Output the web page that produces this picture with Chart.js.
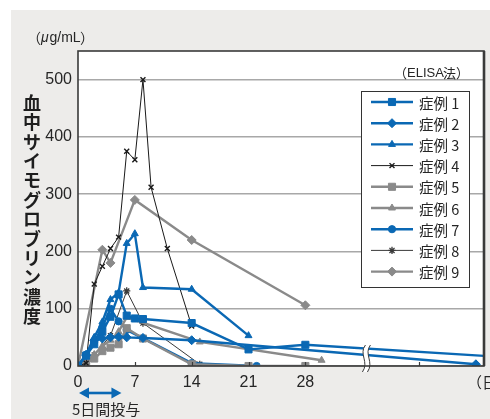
<!DOCTYPE html>
<html>
<head>
<meta charset="utf-8">
<script src="https://cdn.jsdelivr.net/npm/chart.js@4/dist/chart.umd.min.js"></script>
<style>
  html, body { margin: 0; padding: 0; background: #fff; }
  #wrap { position: relative; width: 490px; height: 419px; }
</style>
</head>
<body>
<div id="wrap"><canvas id="c" width="490" height="419"></canvas></div>
<script>
// Serum thymoglobulin concentration (µg/mL) by day, nine cases
const dayTicks = [0, 7, 14, 21, 28, 42];
const concTicks = [0, 100, 200, 300, 400, 500];
const caseNames = ['症例 1', '症例 2', '症例 3', '症例 4', '症例 5', '症例 6', '症例 7', '症例 8', '症例 9'];

const case1Days   = [0, 1, 2, 3, 4, 5, 6, 7, 8, 14, 21, 28, 52];
const case1Values = [0, 18, 38, 60, 86, 125, 88, 83, 82, 75, 29, 37, 16];

const case2Days   = [0, 1, 2, 3, 4, 5, 6, 8, 14, 49];
const case2Values = [0, 19, 45, 48, 50, 51, 50, 49, 45, 3];

const case3Days   = [0, 1, 2, 3, 4, 5, 6, 7, 8, 14, 21];
const case3Values = [0, 20, 50, 77, 116, 128, 214, 231, 137, 134, 53];

const case4Days   = [0, 1, 2, 3, 4, 5, 6, 7, 8, 9, 11, 14];
const case4Values = [0, 5, 143, 174, 205, 225, 375, 360, 500, 312, 205, 70];

const case5Days   = [0, 1, 2, 3, 4, 5, 6, 8, 14, 21, 28];
const case5Values = [0, 5, 13, 26, 32, 38, 66, 48, 3, 0, 0];

const case6Days   = [0, 1, 2, 3, 4, 5, 6, 15, 30];
const case6Values = [0, 8, 20, 35, 45, 60, 85, 42, 10];

const case7Days   = [0, 1, 2, 3, 4, 5, 6, 14, 22];
const case7Values = [0, 20, 42, 68, 100, 78, 63, 5, 0];

const case8Days   = [0, 1, 2, 4, 6, 8, 15];
const case8Values = [0, 3, 19, 53, 131, 75, 3];

const case9Days   = [0, 3, 4, 7, 14, 28];
const case9Values = [0, 203, 180, 290, 220, 106];

const BLUE = '#0a68b4';
const GRAY = '#8a8a8a';
const TEXT = '#262626';
const LATIN = '"Liberation Sans", Arial, sans-serif';
const CJK = '"Noto Sans CJK JP", "Noto Sans", sans-serif';

function pts(days, values) {
  return days.map((d, i) => ({ x: d, y: values[i] }));
}

function series(label, days, values, color, width, style, radius, ptWidth) {
  return {
    label: label,
    data: pts(days, values),
    borderColor: color,
    backgroundColor: color,
    borderWidth: width,
    pointStyle: style,
    pointRadius: radius,
    pointHoverRadius: radius,
    pointBackgroundColor: color,
    pointBorderColor: color,
    pointBorderWidth: ptWidth,
    tension: 0,
    fill: false
  };
}

const datasets = [
  series(caseNames[0], case1Days, case1Values, BLUE, 2.4, 'rect', 5, 1),
  series(caseNames[1], case2Days, case2Values, BLUE, 2.4, 'rectRot', 4.5, 1),
  series(caseNames[2], case3Days, case3Values, BLUE, 2.4, 'triangle', 4, 1),
  series(caseNames[3], case4Days, case4Values, '#1a1a1a', 1, 'crossRot', 3.5, 1.4),
  series(caseNames[4], case5Days, case5Values, GRAY, 2.4, 'rect', 5, 1),
  series(caseNames[5], case6Days, case6Values, GRAY, 2.4, 'triangle', 4, 1),
  series(caseNames[6], case7Days, case7Values, BLUE, 2.4, 'circle', 3.6, 1),
  series(caseNames[7], case8Days, case8Values, '#3a3a3a', 1, 'star', 3.6, 1.3),
  series(caseNames[8], case9Days, case9Values, GRAY, 2.4, 'rectRot', 4.5, 1)
];

// Gray panel behind the chart, white plotting area
const backdrop = {
  id: 'backdrop',
  beforeDraw(chart) {
    const ctx = chart.ctx, a = chart.chartArea;
    ctx.save();
    ctx.fillStyle = '#ffffff';
    ctx.fillRect(0, 0, chart.width, chart.height);
    ctx.fillStyle = '#edecea';
    ctx.fillRect(11, 10, chart.width - 11, chart.height - 10);
    ctx.fillStyle = '#ffffff';
    ctx.fillRect(a.left, a.top, a.right - a.left, a.bottom - a.top);
    ctx.restore();
  }
};

// Frame, inner ticks, axis break, legend and labels
const decorations = {
  id: 'decorations',
  afterDraw(chart) {
    const ctx = chart.ctx, a = chart.chartArea;
    const xs = chart.scales.x;
    const helpers = Chart.helpers;
    ctx.save();

    // axis break on the time axis
    const bx = xs.getPixelForValue(35.4);
    const y0 = a.bottom - 21, y1 = a.bottom + 6;
    function wave(x) {
      ctx.moveTo(x + 2, y0);
      ctx.bezierCurveTo(x - 5, y0 + 9, x + 6, y1 - 10, x - 1, y1);
    }
    ctx.fillStyle = '#ffffff';
    ctx.beginPath();
    ctx.moveTo(bx, y0);
    ctx.bezierCurveTo(bx - 7, y0 + 9, bx + 4, y1 - 10, bx - 3, y1);
    ctx.lineTo(bx + 2, y1);
    ctx.bezierCurveTo(bx + 9, y1 - 10, bx - 2, y0 + 9, bx + 5, y0);
    ctx.closePath();
    ctx.fill();

    // frame
    ctx.strokeStyle = '#3a3a3a';
    ctx.lineWidth = 1.6;
    ctx.strokeRect(a.left, a.top, a.right - a.left, a.bottom - a.top);
    ctx.lineWidth = 2.6;
    ctx.beginPath();
    ctx.moveTo(a.right, a.top);
    ctx.lineTo(a.right, a.bottom);
    ctx.stroke();

    // inward tick marks
    ctx.lineWidth = 1.2;
    ctx.beginPath();
    dayTicks.forEach(d => {
      if (d === 0) return;
      const px = Math.round(xs.getPixelForValue(d)) + 0.5;
      ctx.moveTo(px, a.bottom);
      ctx.lineTo(px, a.bottom - 4);
    });
    ctx.stroke();

    ctx.strokeStyle = '#3a3a3a';
    ctx.lineWidth = 1;
    ctx.beginPath();
    wave(bx - 2);
    wave(bx + 3);
    ctx.stroke();

    // unit label and method
    ctx.fillStyle = TEXT;
    ctx.textBaseline = 'middle';
    ctx.textAlign = 'left';
    ctx.font = '14px ' + CJK;
    ctx.fillText('（', 27, 38);
    ctx.font = 'italic 14px ' + LATIN;
    ctx.fillText('μ', 41, 38);
    ctx.font = '14px ' + LATIN;
    ctx.fillText('g/mL', 49.5, 38);
    ctx.font = '14px ' + CJK;
    ctx.fillText('）', 80, 38);

    ctx.font = '13px ' + CJK;
    ctx.fillText('（', 394, 73);
    ctx.font = '13px ' + LATIN;
    ctx.fillText('ELISA', 407, 73);
    ctx.font = '13px ' + CJK;
    ctx.fillText('法）', 443, 73);

    // vertical axis title, upright characters
    ctx.font = 'bold 18px ' + CJK;
    ctx.textAlign = 'center';
    ctx.fillStyle = '#1e1e1e';
    const title = Array.from('血中サイモグロブリン濃度');
    title.forEach((ch, i) => ctx.fillText(ch, 32, 103 + i * 19.4));

    // time unit at the right end of the axis
    ctx.font = '15px ' + CJK;
    ctx.textAlign = 'left';
    ctx.fillStyle = TEXT;
    ctx.fillText('（日）', 467, 382);

    // dosing period arrow
    const ax0 = xs.getPixelForValue(0) + 1;
    const ax1 = xs.getPixelForValue(5.35);
    const ay = 393;
    ctx.strokeStyle = BLUE;
    ctx.fillStyle = BLUE;
    ctx.lineWidth = 2.6;
    ctx.beginPath();
    ctx.moveTo(ax0 + 6, ay);
    ctx.lineTo(ax1 - 6, ay);
    ctx.stroke();
    ctx.beginPath();
    ctx.moveTo(ax0, ay);
    ctx.lineTo(ax0 + 10, ay - 5.5);
    ctx.lineTo(ax0 + 10, ay + 5.5);
    ctx.closePath();
    ctx.fill();
    ctx.beginPath();
    ctx.moveTo(ax1, ay);
    ctx.lineTo(ax1 - 10, ay - 5.5);
    ctx.lineTo(ax1 - 10, ay + 5.5);
    ctx.closePath();
    ctx.fill();
    ctx.fillStyle = TEXT;
    ctx.font = '15px ' + CJK;
    ctx.textAlign = 'left';
    ctx.fillText('5日間投与', 72, 409);

    // legend box
    const lx = 361, ly = 91, lw = 108, lh = 196;
    ctx.fillStyle = '#ffffff';
    ctx.fillRect(lx, ly, lw, lh);
    ctx.strokeStyle = '#333';
    ctx.lineWidth = 1;
    ctx.strokeRect(lx + 0.5, ly + 0.5, lw, lh);
    chart.data.datasets.forEach((ds, i) => {
      const y = 102 + i * 21.2;
      ctx.strokeStyle = ds.borderColor;
      ctx.lineWidth = ds.borderWidth;
      ctx.beginPath();
      ctx.moveTo(371, y);
      ctx.lineTo(413, y);
      ctx.stroke();
      ctx.fillStyle = ds.pointBackgroundColor;
      ctx.strokeStyle = ds.pointBorderColor;
      ctx.lineWidth = ds.pointBorderWidth;
      helpers.drawPoint(ctx, {
        pointStyle: ds.pointStyle,
        radius: ds.pointRadius,
        rotation: 0,
        borderWidth: ds.pointBorderWidth
      }, 392, y);
      ctx.fillStyle = TEXT;
      ctx.font = '14.5px ' + CJK;
      ctx.textAlign = 'left';
      ctx.textBaseline = 'middle';
      ctx.fillText(ds.label, 419, y + 1);
    });

    ctx.restore();
  }
};

new Chart(document.getElementById('c'), {
  type: 'line',
  data: { datasets: datasets },
  options: {
    responsive: false,
    animation: false,
    devicePixelRatio: 1,
    layout: { padding: { left: 0, top: 51, right: 6, bottom: 0 } },
    plugins: {
      legend: { display: false },
      tooltip: { enabled: false }
    },
    scales: {
      x: {
        type: 'linear',
        min: 0,
        max: 50,
        afterBuildTicks(scale) { scale.ticks = dayTicks.map(v => ({ value: v })); },
        afterFit(scale) { scale.height = 53; },
        grid: { display: false, drawTicks: false },
        border: { display: false },
        ticks: {
          autoSkip: false,
          maxRotation: 0,
          padding: 7,
          color: TEXT,
          font: { family: LATIN, size: 16 },
          callback: v => (v === 42 ? '' : String(v))
        }
      },
      y: {
        type: 'linear',
        min: 0,
        max: 550,
        afterBuildTicks(scale) { scale.ticks = concTicks.map(v => ({ value: v })); },
        afterFit(scale) { scale.width = 78; },
        grid: { color: '#a8a8a8', lineWidth: 1.5, drawTicks: false },
        border: { display: false },
        ticks: {
          padding: 6,
          color: TEXT,
          font: { family: LATIN, size: 16 }
        }
      }
    }
  },
  plugins: [backdrop, decorations]
});
</script>
</body>
</html>
